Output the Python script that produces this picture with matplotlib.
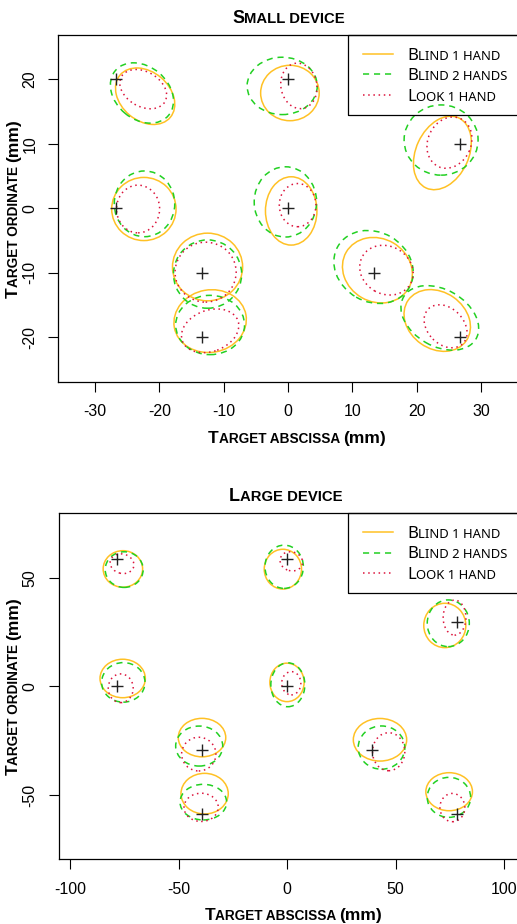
import matplotlib
matplotlib.use("Agg")
import matplotlib.pyplot as plt
from matplotlib.patches import Ellipse, Rectangle
from matplotlib.lines import Line2D

plt.rcParams['axes.unicode_minus'] = False

#target positions (mm)
small_tx = [-26.7, 0, 26.7, -26.7, 0, -13.3, 13.3, -13.3, 26.7]
small_ty = [20, 20, 10, 0, 0, -10, -10, -20, -20]
large_tx = [-78.4, 0, 78.4, -78.4, 0, -39.2, 39.2, -39.2, 78.4]
large_ty = [58.8, 58.8, 29.4, 0, 0, -29.4, -29.4, -58.8, -58.8]

#ellipses per condition: (centre x, centre y, width, height, angle)
small_blind1 = [(-22.2, 17.4, 10.2, 7.6, -40), (0.3, 17.9, 9.1, 8.6, 0),
                (24.0, 8.6, 12.0, 8.2, 65), (-22.4, -0.1, 10.0, 9.8, 0),
                (0.5, -0.4, 8.0, 10.6, 0), (-12.5, -9.1, 10.9, 10.5, 0),
                (-12.1, -17.5, 11.3, 9.7, 10), (13.9, -9.6, 11.2, 9.8, -30),
                (23.2, -17.4, 11.0, 8.8, -35)]
small_blind2 = [(-22.7, 17.9, 10.8, 8.2, -40), (-0.9, 19.0, 10.9, 8.9, 0),
                (23.8, 10.6, 11.5, 10.9, 0), (-22.3, 0.7, 9.4, 10.2, 0),
                (-0.4, 1.0, 9.7, 10.9, 0), (-12.5, -10.2, 10.6, 10.6, 0),
                (-12.1, -18.1, 10.7, 9.2, 0), (13.3, -9.1, 12.8, 10.8, -30),
                (23.6, -17.0, 13.0, 8.8, -30)]
small_look1 = [(-22.5, 18.5, 7.8, 5.4, -30), (1.7, 19.0, 7.1, 5.6, 100),
               (25.1, 10.2, 8.2, 6.7, 65), (-23.3, -0.1, 6.7, 7.4, 0),
               (1.5, 0.5, 5.7, 6.7, 0), (-12.8, -9.9, 9.5, 9.3, 0),
               (-12.1, -19.0, 9.2, 6.4, 20), (15.3, -9.6, 8.6, 7.4, -30),
               (24.5, -18.3, 7.6, 5.6, -45)]

large_blind1 = [(-75.8, 54.0, 18.2, 16.8, 0), (-2.0, 53.9, 17.2, 18.3, 0),
                (72.7, 28.0, 19.4, 20.4, 0), (-75.9, 3.6, 20.9, 17.7, 0),
                (-0.1, 1.8, 15.8, 17.7, 0), (-39.3, -23.6, 21.9, 17.7, 0),
                (42.8, -24.6, 24.6, 19.6, 0), (-38.1, -49.4, 21.8, 18.7, 0),
                (74.7, -48.5, 21.5, 17.5, 0)]
large_blind2 = [(-75.2, 53.7, 17.5, 16.4, 0), (-1.4, 55.0, 17.7, 19.9, 0),
                (74.3, 29.0, 19.4, 21.5, 0), (-75.6, 1.8, 20.0, 18.2, 0),
                (0.3, 0.7, 15.7, 20.2, 0), (-40.6, -27.5, 21.7, 18.4, 0),
                (43.5, -28.2, 21.5, 19.9, 0), (-38.7, -53.3, 21.5, 16.4, 0),
                (74.6, -51.1, 20.0, 18.4, 0)]
large_look1 = [(-76.2, 56.4, 11.1, 8.9, -15), (1.9, 57.5, 10.5, 8.7, -15),
               (77.2, 31.6, 10.5, 16.1, 0), (-76.8, -0.9, 11.5, 13.2, 0),
               (1.9, 1.4, 8.8, 10.7, 0), (-40.8, -31.2, 15.8, 15.5, 0),
               (46.8, -30.1, 14.9, 17.5, 0), (-39.7, -55.7, 15.8, 13.0, 0),
               (76.2, -55.8, 11.5, 13.0, 0)]

small_xticks = [-30, -20, -10, 0, 10, 20, 30]
small_yticks = [-20, -10, 0, 10, 20]
large_xticks = [-100, -50, 0, 50, 100]
large_yticks = [-50, 0, 50]

# labels as (big, small) small-caps pieces
legend_labels = [[("B", 12), ("LIND 1 HAND", 9.4)],
                 [("B", 12), ("LIND 2 HANDS", 9.4)],
                 [("L", 12), ("OOK 1 HAND", 9.4)]]

W, H = 517, 924
LEG_FONT = ["Noto Sans", "DejaVu Sans"]
BOLD_FONT = ["Liberation Sans", "DejaVu Sans"]
ORANGE = "#FFC125"
GREEN = "#22D022"
RED = "#DC143C"
styles = [dict(color=ORANGE, ls="-"),
          dict(color=GREEN, ls=(0, (4, 3.2))),
          dict(color=RED, ls=(0, (1, 2.4)))]

fig = plt.figure(figsize=(W / 100, H / 100), dpi=100)
renderer = fig.canvas.get_renderer()


def text_width(s, size, weight, family):
    t = fig.text(0, 0, s + "|", fontsize=size, fontweight=weight, family=family)
    b = fig.text(0, 0, "|", fontsize=size, fontweight=weight, family=family)
    w = t.get_window_extent(renderer).width - b.get_window_extent(renderer).width
    t.remove()
    b.remove()
    return w


def smallcaps(px, py, parts, weight="bold", rotation=0, align="center",
              family=BOLD_FONT):
    #px, py: pixel position of baseline (from top-left)
    widths = [text_width(s, sz, weight, family) for s, sz in parts]
    total = sum(widths)
    pos = -total / 2 if align == "center" else 0
    for (s, sz), w in zip(parts, widths):
        if rotation == 0:
            xy = ((px + pos) / W, 1 - py / H)
        else:
            xy = (px / W, 1 - (py - pos) / H)
        fig.text(xy[0], xy[1], s, fontsize=sz, fontweight=weight, family=family,
                 ha="left", va="baseline", rotation=rotation,
                 rotation_mode="anchor")
        pos += w


def panel(rect, xlim, ylim, tx, ty, conds, xticks, yticks):
    ax = fig.add_axes(rect)
    ax.set_xlim(*xlim)
    ax.set_ylim(*ylim)
    for data, st in zip(conds, styles):
        for cx, cy, w, h, a in data:
            ax.add_patch(Ellipse((cx, cy), w, h, angle=a, fill=False,
                                 lw=1.1, **st))
    ax.plot(tx, ty, "+", color="#222222", ms=9, mew=1.0, zorder=5)
    ax.set_xticks(xticks)
    ax.set_yticks(yticks)
    ax.tick_params(length=7, width=0.8, pad=9, labelsize=11.5)
    ax.tick_params(axis="y", labelrotation=90, pad=8)
    for lab in ax.get_yticklabels():
        lab.set_va("center")
    for lab in ax.get_xticklabels() + ax.get_yticklabels():
        lab.set_family("Liberation Sans")
    ax.spines["right"].set_visible(False)
    for s in ["left", "top", "bottom"]:
        ax.spines[s].set_linewidth(0.9)
    return ax


def legend_box(top):
    #frame without fill, drawn in figure pixels
    fig.add_artist(Rectangle((347.7 / W, 1 - (top + 80) / H), (W + 5 - 347.7) / W,
                             80 / H, transform=fig.transFigure, fill=False,
                             lw=0.9, ec="black"))
    for i, (st, lab) in enumerate(zip(styles, legend_labels)):
        yy = top + 18.5 + i * 20.7
        fig.add_artist(Line2D([362.7 / W, 393.3 / W], [1 - yy / H] * 2,
                              transform=fig.transFigure, lw=1.1, **st))
        smallcaps(407.3, yy + 6, lab, weight="normal", align="left",
                  family=LEG_FONT)


# small device
panel([58.3 / W, 1 - 381.7 / H, 460 / W, 346.7 / H], (-35.7, 35.8), (-26.9, 26.9),
      small_tx, small_ty, [small_blind1, small_blind2, small_look1],
      small_xticks, small_yticks)
smallcaps(288.5, 22.7, [("S", 13), ("MALL DEVICE", 10.7)])
smallcaps(297, 442.7, [("T", 12.5), ("ARGET ABSCISSA ", 9.8), ("(mm)", 12.5)])
smallcaps(18, 208.4, [("T", 12.5), ("ARGET ORDINATE ", 9.8), ("(mm)", 12.5)],
          rotation=90)
legend_box(35)

# large device
panel([58.5 / W, 1 - 859.3 / H, 458.5 / W, 346 / H], (-105.5, 106), (-79.6, 79.6),
      large_tx, large_ty, [large_blind1, large_blind2, large_look1],
      large_xticks, large_yticks)
smallcaps(285.5, 500.7, [("L", 13), ("ARGE DEVICE", 10.7)])
smallcaps(293.3, 920, [("T", 12.5), ("ARGET ABSCISSA ", 9.8), ("(mm)", 12.5)])
smallcaps(18, 686.3, [("T", 12.5), ("ARGET ORDINATE ", 9.8), ("(mm)", 12.5)],
          rotation=90)
legend_box(513.3)

fig.savefig("out.png", dpi=100)
